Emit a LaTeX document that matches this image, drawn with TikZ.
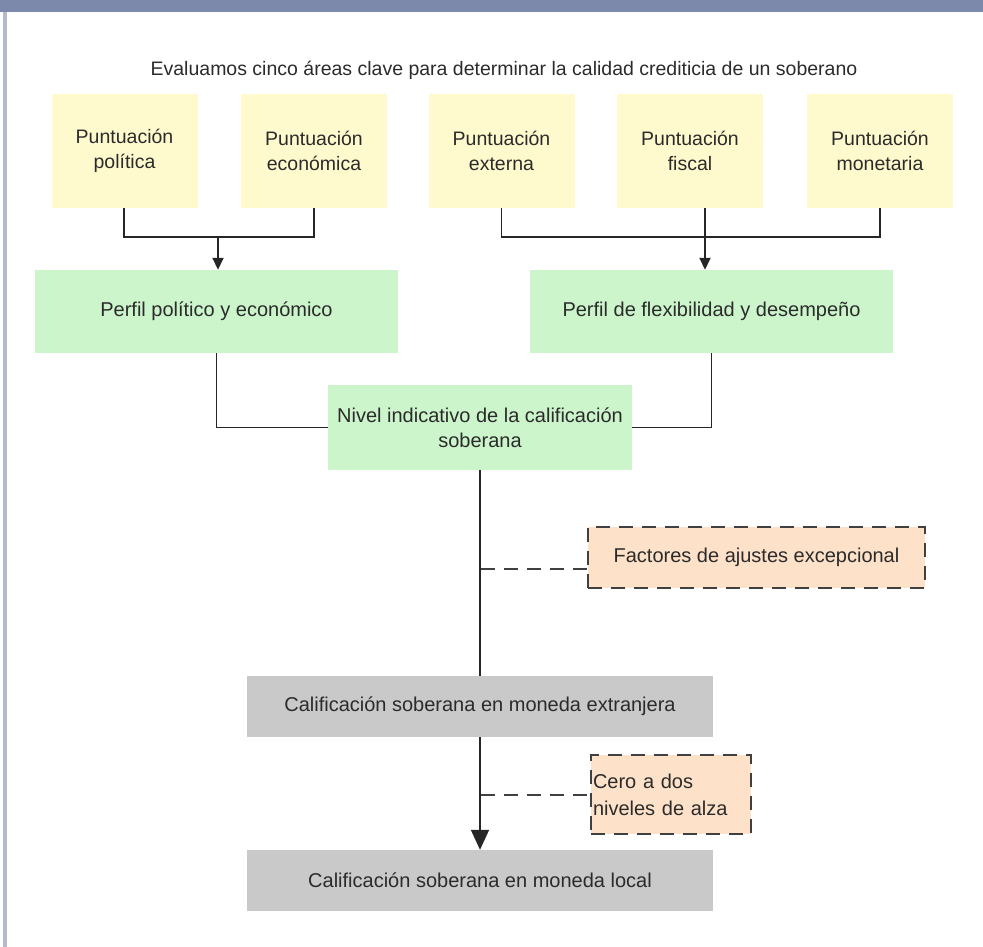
\documentclass[tikz,border=0pt]{standalone}
\usepackage{fontspec}
\setmainfont{Liberation Sans}
\usepackage{tikz}
\usetikzlibrary{arrows.meta}
\definecolor{barblue}{HTML}{7D89AB}
\definecolor{edgegrey}{HTML}{B4BCCB}
\definecolor{scoreyellow}{HTML}{FFFACD}
\definecolor{profilegreen}{HTML}{CCF5CC}
\definecolor{ratinggrey}{HTML}{C9C9C9}
\definecolor{adjustpeach}{HTML}{FDE1C8}
\definecolor{textgrey}{HTML}{2B2B2B}
\tikzset{
  scorebox/.style={fill=scoreyellow, minimum width=146pt, minimum height=114pt, align=center, text=textgrey, font=\fontsize{19.5}{25}\selectfont, inner sep=0pt},
  profilebox/.style={fill=profilegreen, minimum width=363pt, minimum height=83pt, align=center, text=textgrey, font=\fontsize{20}{25}\selectfont, inner sep=0pt},
  ratingbox/.style={fill=ratinggrey, minimum width=466pt, minimum height=61pt, align=center, text=textgrey, font=\fontsize{20}{25}\selectfont, inner sep=0pt},
  adjustbox/.style={fill=adjustpeach, draw=black!75, line width=2pt, dash pattern=on 14pt off 9pt, text=textgrey, font=\fontsize{20}{27}\selectfont, inner sep=0pt},
  link/.style={draw=black!85, line width=1.8pt},
  dashlink/.style={draw=black!75, line width=1.8pt, dash pattern=on 14pt off 9pt}
}
\begin{document}
\begin{tikzpicture}[x=1pt,y=-1pt]
        \useasboundingbox (0,0) rectangle (983,947);
        \fill[barblue] (0,0) rectangle (983,12);
        \fill[edgegrey] (3,12) rectangle (7,947);

        \node[text=textgrey, font=\fontsize{19.5}{22}\selectfont] (title) at (504,70) {Evaluamos cinco áreas clave para determinar la calidad crediticia de un soberano};

        \node[scorebox] (politica) at (124.5,151) {Puntuación\\política};
        \node[scorebox] (economica) at (314,151) {Puntuación\\económica};
        \node[scorebox] (externa) at (501.5,151) {Puntuación\\externa};
        \node[scorebox] (fiscal) at (690,151) {Puntuación\\fiscal};
        \node[scorebox] (monetaria) at (880,151) {Puntuación\\monetaria};

        \node[profilebox] (perfilpol) at (216.5,311.5) {Perfil político y económico};
        \node[profilebox] (perfilflex) at (711.5,311.5) {Perfil de flexibilidad y desempeño};
        \node[profilebox, minimum width=304pt, minimum height=85pt] (nivel) at (480,427.5) {Nivel indicativo de la calificación\\soberana};

        \node[adjustbox, minimum width=337pt, minimum height=61pt] (factores) at (756.5,557.5) {Factores de ajustes excepcional};
        \node[ratingbox] (extranjera) at (480,706.5) {Calificación soberana en moneda extranjera};
        \node[adjustbox, minimum width=160pt, minimum height=79pt, align=left, text width=156pt] (cero) at (671,794.5) {Cero a dos\\niveles de alza};
        \node[ratingbox] (local) at (480,880.5) {Calificación soberana en moneda local};

        \coordinate (ljoin) at (218,237);
        \coordinate (rjoin) at (705,237);
        \coordinate (tap1) at (481,569);
        \coordinate (tap2) at (481,795);

        \draw[link] (politica.south -| 124,0) |- (ljoin);
        \draw[link] (economica.south) |- (ljoin);
        \draw[link, -{Triangle[width=11pt,length=12pt]}] (ljoin) -- (perfilpol.north -| ljoin);
        \draw[link] (externa.south) |- (monetaria.south |- rjoin) -- (monetaria.south);
        \draw[link] (fiscal.south -| rjoin) -- (rjoin);
        \draw[link, -{Triangle[width=11pt,length=12pt]}] (rjoin) -- (perfilflex.north -| rjoin);

        \draw[link] (perfilpol.south) |- (nivel.west);
        \draw[link] (perfilflex.south) |- (nivel.east);
        \draw[link] (nivel.south) -- (extranjera.north);
        \draw[dashlink] (tap1) -- (tap1 -| factores.west);
        \draw[link, -{Triangle[width=18pt,length=20pt]}] (extranjera.south) -- (local.north);
        \draw[dashlink] (tap2) -- (tap2 -| cero.west);

\end{tikzpicture}
\end{document}
